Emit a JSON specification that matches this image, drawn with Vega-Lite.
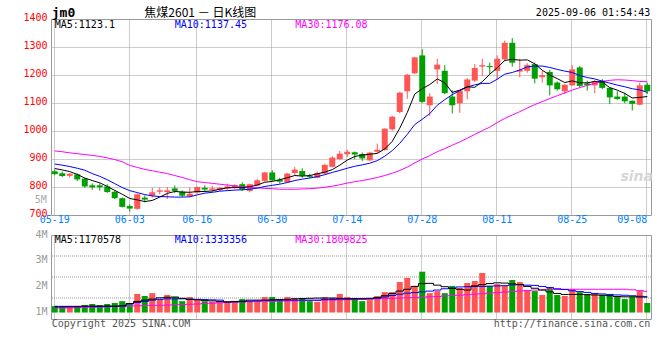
{
"$schema": "https://vega.github.io/schema/vega-lite/v6.json",
"background": "white",
"padding": {"left": 22, "top": 6, "right": 0, "bottom": 0},
"bounds": "flush",
"spacing": 20,
"config": {
 "view": {"stroke": "#999999"},
 "axis": {"labelFont": "DejaVu Sans Mono", "labelFontSize": 10, "ticks": false, "domain": false, "gridColor": "#999999", "gridDash": [1, 1], "gridOpacity": 1, "title": null, "labelOverlap": false},
 "text": {"font": "DejaVu Sans Mono", "fontSize": 10}
},
"datasets": {"k": [
{"d":"05-19","o":856,"h":862,"l":842,"c":846,"m5":866,"m10":882,"m30":929,"v":1.25,"v5":1.24,"v10":1.21,"v30":1.17},
{"d":"05-20","o":849,"h":855,"l":836,"c":839,"m5":861,"m10":878,"m30":926,"v":1.20,"v5":1.24,"v10":1.21,"v30":1.18},
{"d":"05-21","o":840,"h":850,"l":834,"c":847,"m5":855,"m10":873,"m30":922,"v":1.25,"v5":1.24,"v10":1.22,"v30":1.18},
{"d":"05-22","o":845,"h":849,"l":821,"c":827,"m5":845,"m10":867,"m30":919,"v":1.25,"v5":1.24,"v10":1.22,"v30":1.19},
{"d":"05-23","o":830,"h":833,"l":797,"c":802,"m5":832,"m10":860,"m30":916,"v":1.29,"v5":1.25,"v10":1.23,"v30":1.20},
{"d":"05-26","o":806,"h":813,"l":790,"c":799,"m5":823,"m10":848,"m30":913,"v":1.33,"v5":1.25,"v10":1.23,"v30":1.20},
{"d":"05-27","o":806,"h":813,"l":787,"c":799,"m5":815,"m10":838,"m30":909,"v":1.29,"v5":1.25,"v10":1.23,"v30":1.21},
{"d":"05-28","o":802,"h":810,"l":779,"c":782,"m5":802,"m10":826,"m30":904,"v":1.33,"v5":1.25,"v10":1.24,"v30":1.22},
{"d":"05-29","o":783,"h":788,"l":757,"c":760,"m5":788,"m10":812,"m30":898,"v":1.37,"v5":1.25,"v10":1.24,"v30":1.23},
{"d":"05-30","o":760,"h":762,"l":727,"c":729,"m5":774,"m10":798,"m30":890,"v":1.44,"v5":1.26,"v10":1.25,"v30":1.24},
{"d":"06-03","o":732,"h":738,"l":712,"c":723,"m5":759,"m10":787,"m30":877,"v":1.32,"v5":1.35,"v10":1.33,"v30":1.25},
{"d":"06-04","o":722,"h":777,"l":719,"c":774,"m5":754,"m10":780,"m30":870,"v":1.72,"v5":1.43,"v10":1.39,"v30":1.26},
{"d":"06-05","o":762,"h":770,"l":745,"c":755,"m5":748,"m10":773,"m30":863,"v":1.64,"v5":1.48,"v10":1.43,"v30":1.27},
{"d":"06-06","o":769,"h":798,"l":762,"c":781,"m5":752,"m10":768,"m30":858,"v":1.75,"v5":1.52,"v10":1.48,"v30":1.28},
{"d":"06-09","o":783,"h":798,"l":774,"c":788,"m5":764,"m10":766,"m30":853,"v":1.51,"v5":1.57,"v10":1.51,"v30":1.28},
{"d":"06-10","o":782,"h":800,"l":757,"c":788,"m5":777,"m10":765,"m30":848,"v":1.68,"v5":1.59,"v10":1.53,"v30":1.29},
{"d":"06-11","o":795,"h":805,"l":779,"c":786,"m5":784,"m10":764,"m30":841,"v":1.60,"v5":1.60,"v10":1.53,"v30":1.30},
{"d":"06-12","o":783,"h":788,"l":764,"c":769,"m5":782,"m10":764,"m30":834,"v":1.44,"v5":1.55,"v10":1.53,"v30":1.31},
{"d":"06-13","o":767,"h":798,"l":764,"c":776,"m5":781,"m10":765,"m30":826,"v":1.60,"v5":1.51,"v10":1.52,"v30":1.32},
{"d":"06-16","o":780,"h":802,"l":776,"c":800,"m5":784,"m10":772,"m30":819,"v":1.48,"v5":1.49,"v10":1.51,"v30":1.33},
{"d":"06-17","o":797,"h":806,"l":782,"c":791,"m5":784,"m10":778,"m30":816,"v":1.44,"v5":1.47,"v10":1.50,"v30":1.35},
{"d":"06-18","o":790,"h":805,"l":781,"c":795,"m5":786,"m10":781,"m30":813,"v":1.41,"v5":1.45,"v10":1.49,"v30":1.36},
{"d":"06-19","o":789,"h":800,"l":786,"c":797,"m5":792,"m10":785,"m30":810,"v":1.41,"v5":1.43,"v10":1.48,"v30":1.38},
{"d":"06-20","o":795,"h":812,"l":788,"c":802,"m5":797,"m10":787,"m30":807,"v":1.41,"v5":1.41,"v10":1.41,"v30":1.40},
{"d":"06-23","o":798,"h":810,"l":793,"c":807,"m5":798,"m10":789,"m30":804,"v":1.41,"v5":1.43,"v10":1.41,"v30":1.41},
{"d":"06-24","o":810,"h":817,"l":786,"c":791,"m5":798,"m10":790,"m30":801,"v":1.52,"v5":1.44,"v10":1.42,"v30":1.41},
{"d":"06-25","o":786,"h":812,"l":781,"c":810,"m5":801,"m10":792,"m30":799,"v":1.41,"v5":1.48,"v10":1.44,"v30":1.42},
{"d":"06-26","o":805,"h":829,"l":803,"c":824,"m5":807,"m10":796,"m30":797,"v":1.41,"v5":1.48,"v10":1.45,"v30":1.42},
{"d":"06-27","o":822,"h":854,"l":819,"c":852,"m5":817,"m10":802,"m30":795,"v":1.60,"v5":1.48,"v10":1.47,"v30":1.43},
{"d":"06-30","o":852,"h":860,"l":821,"c":824,"m5":820,"m10":806,"m30":794,"v":1.60,"v5":1.49,"v10":1.48,"v30":1.43},
{"d":"07-01","o":826,"h":833,"l":812,"c":819,"m5":826,"m10":810,"m30":792,"v":1.52,"v5":1.50,"v10":1.48,"v30":1.44},
{"d":"07-02","o":817,"h":850,"l":814,"c":848,"m5":833,"m10":816,"m30":792,"v":1.60,"v5":1.51,"v10":1.48,"v30":1.45},
{"d":"07-03","o":850,"h":871,"l":840,"c":862,"m5":841,"m10":823,"m30":792,"v":1.56,"v5":1.53,"v10":1.48,"v30":1.45},
{"d":"07-04","o":857,"h":867,"l":833,"c":840,"m5":839,"m10":828,"m30":793,"v":1.56,"v5":1.54,"v10":1.48,"v30":1.46},
{"d":"07-07","o":840,"h":847,"l":831,"c":836,"m5":841,"m10":832,"m30":794,"v":1.44,"v5":1.55,"v10":1.48,"v30":1.47},
{"d":"07-08","o":833,"h":855,"l":831,"c":850,"m5":847,"m10":837,"m30":796,"v":1.41,"v5":1.56,"v10":1.48,"v30":1.47},
{"d":"07-09","o":848,"h":883,"l":846,"c":879,"m5":853,"m10":844,"m30":799,"v":1.60,"v5":1.56,"v10":1.50,"v30":1.48},
{"d":"07-10","o":872,"h":910,"l":870,"c":905,"m5":862,"m10":852,"m30":803,"v":1.57,"v5":1.56,"v10":1.51,"v30":1.48},
{"d":"07-11","o":900,"h":929,"l":895,"c":919,"m5":878,"m10":859,"m30":808,"v":1.72,"v5":1.55,"v10":1.52,"v30":1.49},
{"d":"07-14","o":917,"h":933,"l":907,"c":926,"m5":896,"m10":867,"m30":814,"v":1.60,"v5":1.53,"v10":1.53,"v30":1.50},
{"d":"07-15","o":924,"h":927,"l":899,"c":916,"m5":909,"m10":874,"m30":819,"v":1.56,"v5":1.53,"v10":1.53,"v30":1.50},
{"d":"07-16","o":918,"h":923,"l":893,"c":902,"m5":914,"m10":879,"m30":823,"v":1.44,"v5":1.53,"v10":1.54,"v30":1.51},
{"d":"07-17","o":895,"h":926,"l":893,"c":923,"m5":917,"m10":885,"m30":828,"v":1.48,"v5":1.53,"v10":1.55,"v30":1.52},
{"d":"07-18","o":926,"h":955,"l":920,"c":933,"m5":920,"m10":894,"m30":834,"v":1.64,"v5":1.58,"v10":1.55,"v30":1.53},
{"d":"07-21","o":932,"h":1010,"l":930,"c":1008,"m5":936,"m10":910,"m30":841,"v":1.79,"v5":1.65,"v10":1.60,"v30":1.54},
{"d":"07-22","o":1006,"h":1054,"l":1001,"c":1051,"m5":963,"m10":930,"m30":849,"v":1.79,"v5":1.74,"v10":1.66,"v30":1.55},
{"d":"07-23","o":1068,"h":1139,"l":1063,"c":1137,"m5":1010,"m10":956,"m30":859,"v":2.18,"v5":1.83,"v10":1.71,"v30":1.56},
{"d":"07-24","o":1142,"h":1204,"l":1115,"c":1201,"m5":1066,"m10":988,"m30":871,"v":2.34,"v5":1.90,"v10":1.75,"v30":1.57},
{"d":"07-25","o":1206,"h":1264,"l":1204,"c":1263,"m5":1132,"m10":1023,"m30":886,"v":2.03,"v5":2.01,"v10":1.77,"v30":1.58},
{"d":"07-28","o":1270,"h":1292,"l":1101,"c":1104,"m5":1151,"m10":1042,"m30":900,"v":2.58,"v5":2.12,"v10":1.80,"v30":1.59},
{"d":"07-29","o":1092,"h":1135,"l":1054,"c":1123,"m5":1166,"m10":1062,"m30":912,"v":1.75,"v5":2.13,"v10":1.83,"v30":1.61},
{"d":"07-30","o":1220,"h":1258,"l":1168,"c":1237,"m5":1186,"m10":1092,"m30":926,"v":1.83,"v5":2.06,"v10":1.87,"v30":1.62},
{"d":"07-31","o":1215,"h":1235,"l":1132,"c":1135,"m5":1172,"m10":1112,"m30":937,"v":1.75,"v5":2.00,"v10":1.92,"v30":1.64},
{"d":"08-01","o":1123,"h":1146,"l":1063,"c":1092,"m5":1138,"m10":1130,"m30":949,"v":2.03,"v5":1.93,"v10":1.95,"v30":1.66},
{"d":"08-04","o":1099,"h":1146,"l":1065,"c":1144,"m5":1146,"m10":1144,"m30":961,"v":1.95,"v5":1.90,"v10":1.99,"v30":1.67},
{"d":"08-05","o":1142,"h":1189,"l":1113,"c":1184,"m5":1158,"m10":1157,"m30":974,"v":2.14,"v5":1.87,"v10":2.00,"v30":1.69},
{"d":"08-06","o":1180,"h":1239,"l":1175,"c":1225,"m5":1156,"m10":1165,"m30":988,"v":2.22,"v5":2.03,"v10":2.01,"v30":1.71},
{"d":"08-07","o":1230,"h":1258,"l":1196,"c":1235,"m5":1176,"m10":1170,"m30":1001,"v":2.53,"v5":2.08,"v10":2.01,"v30":1.73},
{"d":"08-08","o":1232,"h":1244,"l":1204,"c":1228,"m5":1203,"m10":1170,"m30":1014,"v":2.03,"v5":2.12,"v10":2.02,"v30":1.75},
{"d":"08-11","o":1215,"h":1270,"l":1185,"c":1258,"m5":1226,"m10":1185,"m30":1030,"v":2.10,"v5":2.15,"v10":2.03,"v30":1.77},
{"d":"08-12","o":1256,"h":1323,"l":1249,"c":1315,"m5":1252,"m10":1203,"m30":1045,"v":2.03,"v5":2.14,"v10":2.04,"v30":1.79},
{"d":"08-13","o":1315,"h":1332,"l":1230,"c":1244,"m5":1256,"m10":1209,"m30":1057,"v":2.26,"v5":2.11,"v10":2.07,"v30":1.81},
{"d":"08-14","o":1212,"h":1258,"l":1192,"c":1218,"m5":1253,"m10":1218,"m30":1069,"v":2.18,"v5":2.08,"v10":2.08,"v30":1.83},
{"d":"08-15","o":1215,"h":1242,"l":1208,"c":1235,"m5":1254,"m10":1229,"m30":1082,"v":1.87,"v5":2.01,"v10":2.06,"v30":1.85},
{"d":"08-18","o":1239,"h":1244,"l":1170,"c":1187,"m5":1240,"m10":1232,"m30":1094,"v":1.83,"v5":1.94,"v10":2.05,"v30":1.87},
{"d":"08-19","o":1192,"h":1215,"l":1173,"c":1199,"m5":1217,"m10":1232,"m30":1105,"v":1.68,"v5":1.87,"v10":2.01,"v30":1.88},
{"d":"08-20","o":1211,"h":1218,"l":1127,"c":1163,"m5":1200,"m10":1227,"m30":1116,"v":1.95,"v5":1.80,"v10":1.97,"v30":1.89},
{"d":"08-21","o":1173,"h":1177,"l":1144,"c":1149,"m5":1187,"m10":1220,"m30":1126,"v":1.68,"v5":1.74,"v10":1.92,"v30":1.89},
{"d":"08-22","o":1142,"h":1168,"l":1132,"c":1165,"m5":1173,"m10":1214,"m30":1136,"v":1.64,"v5":1.70,"v10":1.89,"v30":1.90},
{"d":"08-25","o":1163,"h":1235,"l":1161,"c":1220,"m5":1179,"m10":1209,"m30":1146,"v":1.91,"v5":1.70,"v10":1.84,"v30":1.90},
{"d":"08-26","o":1227,"h":1232,"l":1156,"c":1161,"m5":1172,"m10":1198,"m30":1155,"v":1.79,"v5":1.70,"v10":1.81,"v30":1.90},
{"d":"08-27","o":1170,"h":1180,"l":1144,"c":1163,"m5":1172,"m10":1191,"m30":1163,"v":1.72,"v5":1.69,"v10":1.78,"v30":1.90},
{"d":"08-28","o":1163,"h":1182,"l":1135,"c":1177,"m5":1177,"m10":1186,"m30":1170,"v":1.72,"v5":1.68,"v10":1.74,"v30":1.90},
{"d":"08-29","o":1180,"h":1185,"l":1149,"c":1154,"m5":1175,"m10":1178,"m30":1177,"v":1.68,"v5":1.67,"v10":1.72,"v30":1.90},
{"d":"09-01","o":1154,"h":1156,"l":1096,"c":1120,"m5":1155,"m10":1171,"m30":1181,"v":1.68,"v5":1.65,"v10":1.70,"v30":1.90},
{"d":"09-02","o":1123,"h":1142,"l":1111,"c":1114,"m5":1146,"m10":1164,"m30":1183,"v":1.60,"v5":1.62,"v10":1.68,"v30":1.90},
{"d":"09-03","o":1123,"h":1137,"l":1099,"c":1106,"m5":1134,"m10":1158,"m30":1182,"v":1.52,"v5":1.61,"v10":1.67,"v30":1.90},
{"d":"09-04","o":1108,"h":1109,"l":1073,"c":1097,"m5":1118,"m10":1151,"m30":1180,"v":1.60,"v5":1.61,"v10":1.65,"v30":1.88},
{"d":"09-05","o":1094,"h":1173,"l":1092,"c":1163,"m5":1120,"m10":1147,"m30":1177,"v":1.83,"v5":1.60,"v10":1.63,"v30":1.85},
{"d":"09-08","o":1165,"h":1173,"l":1132,"c":1142,"m5":1123,"m10":1138,"m30":1176,"v":1.37,"v5":1.60,"v10":1.61,"v30":1.82}
]},
"vconcat": [
{
 "width": 600, "height": 196,
 "data": {"name": "k"},
 "layer": [
  {"data": {"values": [{}]}, "mark": {"type": "text", "text": "sina", "font": "DejaVu Sans", "fontStyle": "italic", "fontWeight": "bold", "fontSize": 14, "color": "#d6d6d6", "align": "center", "baseline": "middle"},
   "encoding": {"x": {"datum": "09-05", "type": "ordinal", "bandPosition": 0}, "y": {"datum": 836, "type": "quantitative"}}},
  {"mark": {"type": "rule", "strokeWidth": 1},
   "encoding": {
    "x": {"field": "d", "type": "ordinal", "scale": {"paddingInner": 0.2, "paddingOuter": 0.1},
      "axis": {"values": ["05-19","06-03","06-16","06-30","07-14","07-28","08-11","08-25","09-08"], "bandPosition": 0.4, "labelColor": "#0080ff", "labelPadding": 4, "labelAngle": 0, "grid": true, "labelOverlap": false,
        "labelAlign": {"condition": {"test": "datum.value == '09-08'", "value": "right"}, "value": "center"}}},
    "y": {"field": "l", "type": "quantitative", "scale": {"domain": [700, 1400], "nice": false, "zero": false},
      "axis": {"values": [700,800,900,1000,1100,1200,1300,1400], "tickCount": 20, "format": "d", "labelColor": "#ff0000", "labelPadding": 4, "labelOffset": -2, "grid": true, "labelOverlap": false, "labelBound": false}},
    "y2": {"field": "h"},
    "color": {"condition": {"test": "datum.c > datum.o", "value": "#ff5555"}, "value": "#00a000"}
   }},
  {"mark": {"type": "bar"},
   "encoding": {
    "x": {"field": "d", "type": "ordinal"},
    "y": {"field": "o", "type": "quantitative"},
    "y2": {"field": "c"},
    "color": {"condition": {"test": "datum.c > datum.o", "value": "#ff5555"}, "value": "#00a000"}
   }},
  {"mark": {"type": "line", "color": "#ff00ff", "strokeWidth": 1}, "encoding": {"x": {"field": "d", "type": "ordinal"}, "y": {"field": "m30", "type": "quantitative"}}},
  {"mark": {"type": "line", "color": "#0000ff", "strokeWidth": 1}, "encoding": {"x": {"field": "d", "type": "ordinal"}, "y": {"field": "m10", "type": "quantitative"}}},
  {"mark": {"type": "line", "color": "#000000", "strokeWidth": 1}, "encoding": {"x": {"field": "d", "type": "ordinal"}, "y": {"field": "m5", "type": "quantitative"}}},
  {"data": {"values": [{}]}, "mark": {"type": "text", "text": "jm0", "fontWeight": "bold", "fontSize": 13, "align": "left", "baseline": "alphabetic", "color": "#000000"},
   "encoding": {"x": {"datum": "05-19", "type": "ordinal", "bandPosition": 0}, "y": {"datum": 1407, "type": "quantitative"}}},
  {"data": {"values": [{}]}, "mark": {"type": "text", "text": "焦煤2601 － 日K线图", "font": "Noto Sans CJK SC", "fontSize": 12, "align": "center", "baseline": "alphabetic", "color": "#000000"},
   "encoding": {"x": {"datum": "06-16", "type": "ordinal", "bandPosition": 1}, "y": {"datum": 1407, "type": "quantitative"}}},
  {"data": {"values": [{}]}, "mark": {"type": "text", "text": "2025-09-06 01:54:43", "align": "right", "baseline": "alphabetic", "color": "#000000"},
   "encoding": {"x": {"datum": "09-08", "type": "ordinal", "bandPosition": 1}, "y": {"datum": 1411, "type": "quantitative"}}},
  {"data": {"values": [{}]}, "mark": {"type": "text", "text": "MA5:1123.1", "align": "left", "baseline": "alphabetic", "color": "#000000"},
   "encoding": {"x": {"datum": "05-19", "type": "ordinal", "bandPosition": 0.5}, "y": {"datum": 1369, "type": "quantitative"}}},
  {"data": {"values": [{}]}, "mark": {"type": "text", "text": "MA10:1137.45", "align": "left", "baseline": "alphabetic", "color": "#0000ff"},
   "encoding": {"x": {"datum": "06-11", "type": "ordinal", "bandPosition": 0.5}, "y": {"datum": 1369, "type": "quantitative"}}},
  {"data": {"values": [{}]}, "mark": {"type": "text", "text": "MA30:1176.08", "align": "left", "baseline": "alphabetic", "color": "#ff00ff"},
   "encoding": {"x": {"datum": "07-03", "type": "ordinal", "bandPosition": 0.6}, "y": {"datum": 1369, "type": "quantitative"}}},
  {"data": {"values": [{}]}, "mark": {"type": "text", "text": "5M", "align": "right", "baseline": "alphabetic", "dx": -5, "color": "#aaaaaa"},
   "encoding": {"x": {"datum": "05-19", "type": "ordinal", "bandPosition": 0}, "y": {"datum": 744, "type": "quantitative"}}}
 ]
},
{
 "width": 600, "height": 84,
 "data": {"name": "k"},
 "layer": [
  {"data": {"values": [{"g": 1.5625}, {"g": 2.375}, {"g": 3.1875}]}, "mark": {"type": "rule", "color": "#999999", "strokeDash": [1, 1]},
   "encoding": {"y": {"field": "g", "type": "quantitative"}}},
  {"mark": {"type": "bar"},
   "encoding": {
    "x": {"field": "d", "type": "ordinal", "scale": {"paddingInner": 0.2, "paddingOuter": 0.1},
      "axis": {"values": ["05-19","06-03","06-16","06-30","07-14","07-28","08-11","08-25","09-08"], "bandPosition": 0.4, "labels": false, "grid": true}},
    "y": {"field": "v", "type": "quantitative", "scale": {"domain": [0.75, 4], "nice": false, "zero": false},
      "axis": {"values": [1, 2, 3, 4], "tickCount": 20, "labelExpr": "datum.value + 'M'", "labelColor": "#999999", "labelPadding": 4, "labelOffset": -1, "grid": false, "labelOverlap": false, "labelBound": false}},
    "y2": {"datum": 1},
    "color": {"condition": {"test": "datum.c > datum.o", "value": "#ff5555"}, "value": "#00a000"}
   }},
  {"mark": {"type": "line", "color": "#ff00ff", "strokeWidth": 1, "interpolate": "step"}, "encoding": {"x": {"field": "d", "type": "ordinal"}, "y": {"field": "v30", "type": "quantitative"}}},
  {"mark": {"type": "line", "color": "#0000ff", "strokeWidth": 1, "interpolate": "step"}, "encoding": {"x": {"field": "d", "type": "ordinal"}, "y": {"field": "v10", "type": "quantitative"}}},
  {"mark": {"type": "line", "color": "#000000", "strokeWidth": 1, "interpolate": "step"}, "encoding": {"x": {"field": "d", "type": "ordinal"}, "y": {"field": "v5", "type": "quantitative"}}},
  {"data": {"values": [{}]}, "mark": {"type": "text", "text": "MA5:1170578", "align": "left", "baseline": "alphabetic", "color": "#000000"},
   "encoding": {"x": {"datum": "05-19", "type": "ordinal", "bandPosition": 0.5}, "y": {"datum": 3.7, "type": "quantitative"}}},
  {"data": {"values": [{}]}, "mark": {"type": "text", "text": "MA10:1333356", "align": "left", "baseline": "alphabetic", "color": "#0000ff"},
   "encoding": {"x": {"datum": "06-11", "type": "ordinal", "bandPosition": 0.5}, "y": {"datum": 3.7, "type": "quantitative"}}},
  {"data": {"values": [{}]}, "mark": {"type": "text", "text": "MA30:1809825", "align": "left", "baseline": "alphabetic", "color": "#ff00ff"},
   "encoding": {"x": {"datum": "07-03", "type": "ordinal", "bandPosition": 0.6}, "y": {"datum": 3.7, "type": "quantitative"}}},
  {"data": {"values": [{}]}, "mark": {"type": "text", "text": "Copyright 2025 SINA.COM", "align": "left", "baseline": "alphabetic", "color": "#555555"},
   "encoding": {"x": {"datum": "05-19", "type": "ordinal", "bandPosition": 0}, "y": {"datum": 0.44, "type": "quantitative"}}},
  {"data": {"values": [{}]}, "mark": {"type": "text", "text": "http://finance.sina.com.cn", "align": "right", "baseline": "alphabetic", "color": "#555555"},
   "encoding": {"x": {"datum": "09-08", "type": "ordinal", "bandPosition": 1}, "y": {"datum": 0.44, "type": "quantitative"}}}
 ]
}
]
}
